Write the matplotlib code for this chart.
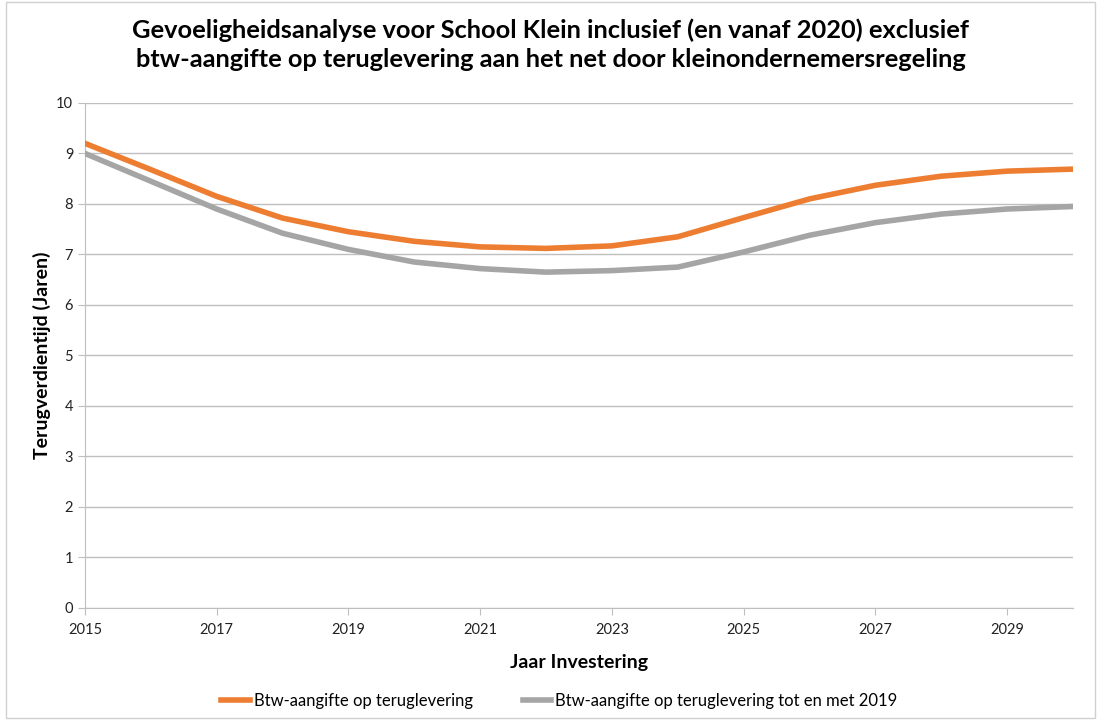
import numpy as np
import matplotlib.pyplot as plt
from matplotlib.patches import Rectangle

# data
years = list(range(2015, 2031))
btw_terug = [9.20, 8.68, 8.15, 7.72, 7.45, 7.26, 7.15, 7.12, 7.17, 7.35,
             7.73, 8.10, 8.37, 8.55, 8.65, 8.69]
btw_tot_2019 = [9.00, 8.45, 7.90, 7.42, 7.10, 6.85, 6.72, 6.65, 6.68, 6.75,
                7.05, 7.38, 7.63, 7.80, 7.90, 7.95]
xticks = list(range(2015, 2031, 2))
yticks = list(range(0, 11))

plt.rcParams['font.family'] = ['Lato', 'DejaVu Sans']

fig = plt.figure(figsize=(11.01, 7.2), dpi=100)
ax = fig.add_axes([0.0772, 0.1556, 0.8974, 0.7014])

# light border round the whole chart
fig.patches.append(Rectangle((0.005, 0.003), 0.99, 0.994, transform=fig.transFigure,
                             fill=False, edgecolor='#D0D0D0', linewidth=1))

ax.plot(years, btw_terug, color='#ED7D31', linewidth=4, solid_joinstyle='round',
        label='Btw-aangifte op teruglevering', zorder=3)
ax.plot(years, btw_tot_2019, color='#A5A5A5', linewidth=4, solid_joinstyle='round',
        label='Btw-aangifte op teruglevering tot en met 2019', zorder=3)

ax.set_xlim(2015, 2030)
ax.set_ylim(0, 10)
ax.set_xticks(xticks)
ax.set_yticks(yticks)
ax.grid(axis='y', color='#BFBFBF', linewidth=1)
ax.set_axisbelow(True)
for s in ['top', 'right']:
    ax.spines[s].set_visible(False)
for s in ['left', 'bottom']:
    ax.spines[s].set_color('#BFBFBF')
ax.tick_params(axis='both', colors='#BFBFBF', labelcolor='#222222', labelsize=10.5,
               length=5, direction='out')
ax.tick_params(axis='x', pad=6)

ax.set_xlabel('Jaar Investering', fontsize=14, fontweight='bold', labelpad=12)
ax.set_ylabel('Terugverdientijd (Jaren)', fontsize=14, fontweight='bold', labelpad=4)

fig.suptitle('Gevoeligheidsanalyse voor School Klein inclusief (en vanaf 2020) exclusief\n'
             'btw-aangifte op teruglevering aan het net door kleinondernemersregeling',
             fontsize=18.3, fontweight='bold', y=0.975, linespacing=1.35)

fig.legend(loc='center', bbox_to_anchor=(0.508, 0.027), ncol=2, frameon=False,
           fontsize=12, handlelength=1.7, handletextpad=0.25, columnspacing=3)

plt.savefig('out.png', dpi=100)
